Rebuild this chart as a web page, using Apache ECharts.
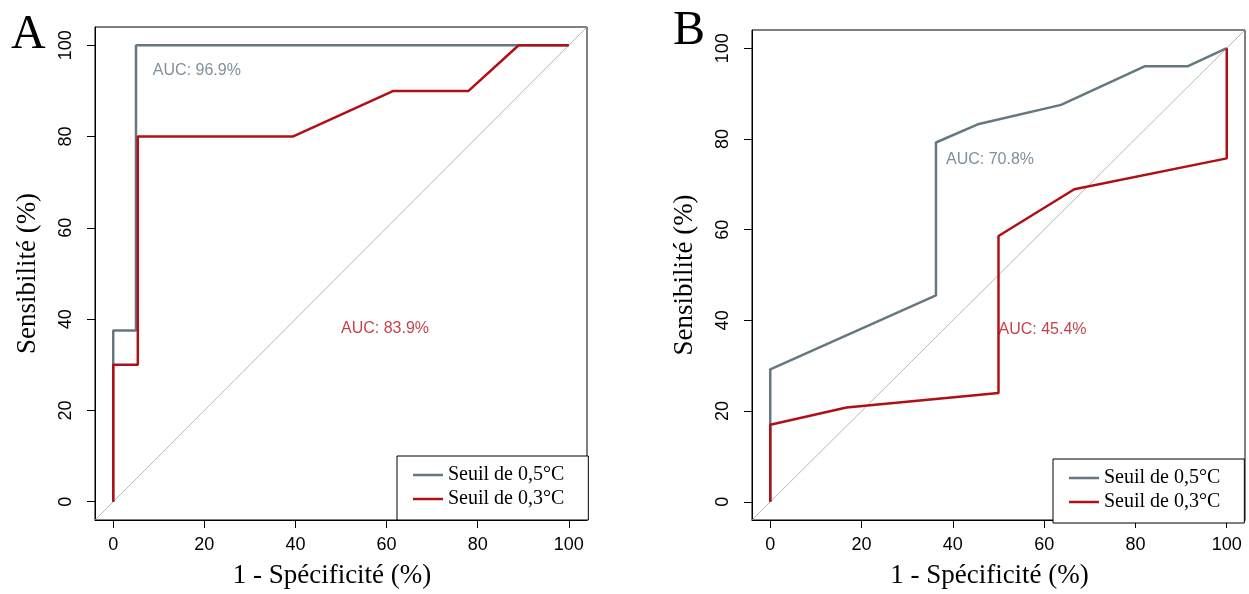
<!DOCTYPE html>
<html>
<head>
    <meta charset="utf-8">
    <title>ROC</title>
    <script src="https://cdn.jsdelivr.net/npm/echarts@6/dist/echarts.min.js"></script>
</head>
<style>
    *{
        padding: 0;
        margin: 0;
    }
    #main {
        width: 1249px;
        height: 594px;
        position: absolute;
        background: #fff;
    }
</style>
<body>
    <div id="main"></div>
    <script type="text/javascript">
    // ticks shared by both panels
    var ticks = [0, 20, 40, 60, 80, 100];
    var diag = [-4, 104];

    // panel A : 1 - specificite (x) / sensibilite (y)
    var xA_05 = [0, 0, 5, 5, 100];
    var yA_05 = [0, 37.5, 37.5, 100, 100];
    var xA_03 = [0, 0, 5.4, 5.4, 39.4, 61.5, 78, 89, 100];
    var yA_03 = [0, 30, 30, 80, 80, 90, 90, 100, 100];

    // panel B
    var xB_05 = [0, 0, 36.3, 36.3, 45.7, 63.7, 82, 91.4, 100];
    var yB_05 = [0, 29.2, 45.5, 79.2, 83.3, 87.5, 96, 96, 100];
    var xB_03 = [0, 0, 16.7, 50, 50, 66.6, 100, 100];
    var yB_03 = [0, 17, 20.8, 24, 58.6, 68.9, 75.7, 100];

    // AUC texts and where they sit (data coords)
    var aucA = ['AUC: 96.9%', 'AUC: 83.9%'];
    var aucPosA = [[8.7, 94.5], [50, 38]];
    var aucB = ['AUC: 70.8%', 'AUC: 45.4%'];
    var aucPosB = [[38.5, 75.5], [50, 38]];

    var names = ['Seuil de 0,5°C', 'Seuil de 0,3°C'];
    var colGrey = '#65777f';
    var colRed = '#b01015';
    var colGreyTxt = '#5f7383';
    var colRedTxt = '#b5121b';

    function zip(xs, ys) {
        return xs.map(function (x, i) { return [x, ys[i]]; });
    }

    function xAxisFor(idx) {
        return {
            type: 'value', gridIndex: idx, min: -4, max: 104,
            name: '1 - Spécificité (%)', nameLocation: 'middle', nameGap: 42,
            nameTextStyle: { fontFamily: 'Liberation Serif', fontSize: 27, color: '#000', padding: [0, 18, 0, 0] },
            axisLine: { show: true, onZero: false, lineStyle: { color: '#000', width: 1 } },
            axisTick: { show: true, length: 8, customValues: ticks, lineStyle: { color: '#000' } },
            axisLabel: { customValues: ticks, margin: 16, fontFamily: 'Liberation Sans', fontSize: 18, color: '#000' },
            splitLine: { show: false }
        };
    }
    function yAxisFor(idx) {
        return {
            type: 'value', gridIndex: idx, min: -4, max: 104,
            name: 'Sensibilité (%)', nameLocation: 'middle', nameGap: 54,
            nameTextStyle: { fontFamily: 'Liberation Serif', fontSize: 27, color: '#000' },
            axisLine: { show: true, onZero: false, lineStyle: { color: '#000', width: 1 } },
            axisTick: { show: true, length: 8, customValues: ticks, lineStyle: { color: '#000' } },
            axisLabel: { customValues: ticks, rotate: 90, margin: 20, fontFamily: 'Liberation Sans', fontSize: 18, color: '#000' },
            splitLine: { show: false }
        };
    }
    function legendFor(left, top) {
        return {
            data: names, orient: 'vertical', left: left, top: top,
            backgroundColor: '#fff', borderColor: '#000', borderWidth: 1, borderRadius: 0,
            padding: [9, 24, 11, 16], itemGap: 4, itemWidth: 30, itemHeight: 2.5,
            icon: 'rect',
            textStyle: { fontFamily: 'Liberation Serif', fontSize: 20, color: '#000' },
            selectedMode: false
        };
    }
    function lineSeries(name, data, color, idx) {
        return {
            name: name, type: 'line', xAxisIndex: idx, yAxisIndex: idx,
            data: data, symbol: 'none',
            lineStyle: { color: color, width: 2.5 }, itemStyle: { color: color }
        };
    }
    function aucSeries(texts, pos, idx) {
        return {
            type: 'scatter', xAxisIndex: idx, yAxisIndex: idx, symbolSize: 0, silent: true,
            data: pos.map(function (p, i) {
                return {
                    value: p,
                    label: {
                        show: true, position: 'inside', align: 'left', verticalAlign: 'middle',
                        formatter: texts[i], fontFamily: 'Liberation Sans', fontSize: 16,
                        color: i === 0 ? colGreyTxt : colRedTxt
                    }
                };
            })
        };
    }
    function diagSeries(idx) {
        return {
            type: 'line', xAxisIndex: idx, yAxisIndex: idx, symbol: 'none', silent: true,
            data: zip(diag, diag), lineStyle: { color: '#a6a6a6', width: 0.8 }, z: 1
        };
    }

    var myChart = echarts.init(document.getElementById('main'));
    var option = {
        animation: false,
        title: [
            { text: 'A', left: 6, top: 6, textStyle: { fontFamily: 'Liberation Serif', fontSize: 48, fontWeight: 'normal', color: '#000' } },
            { text: 'B', left: 668, top: 2, textStyle: { fontFamily: 'Liberation Serif', fontSize: 48, fontWeight: 'normal', color: '#000' } }
        ],
        grid: [
            { left: 95, top: 27, width: 492, height: 494, show: true, borderColor: '#000', borderWidth: 1, backgroundColor: 'transparent' },
            { left: 752, top: 30, width: 493, height: 493, show: true, borderColor: '#000', borderWidth: 1, backgroundColor: 'transparent' }
        ],
        xAxis: [xAxisFor(0), xAxisFor(1)],
        yAxis: [yAxisFor(0), yAxisFor(1)],
        legend: [legendFor(397, 456), legendFor(1053, 459)],
        series: [
            diagSeries(0),
            lineSeries(names[0], zip(xA_05, yA_05), colGrey, 0),
            lineSeries(names[1], zip(xA_03, yA_03), colRed, 0),
            aucSeries(aucA, aucPosA, 0),
            diagSeries(1),
            lineSeries(names[0], zip(xB_05, yB_05), colGrey, 1),
            lineSeries(names[1], zip(xB_03, yB_03), colRed, 1),
            aucSeries(aucB, aucPosB, 1)
        ]
    };
    myChart.setOption(option);
    </script>
</body>
</html>
